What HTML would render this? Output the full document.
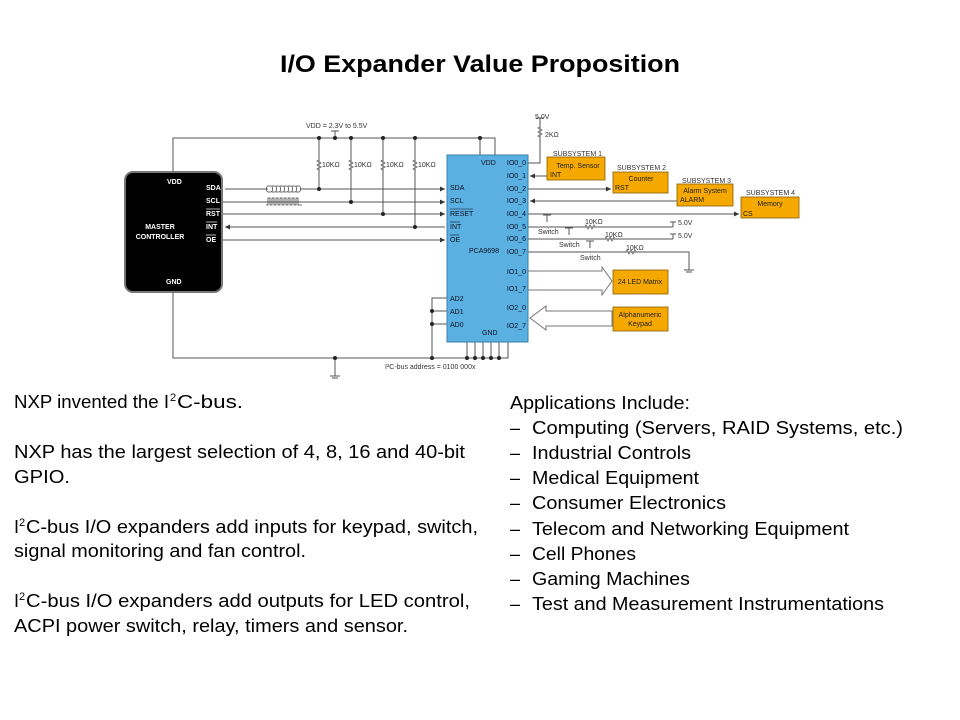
<!DOCTYPE html>
<html><head><meta charset="utf-8"><style>
html,body{margin:0;padding:0;background:#fff;}
svg{display:block;font-family:"Liberation Sans",Arial,sans-serif;}
</style></head><body>
<svg width="960" height="720" viewBox="0 0 960 720" xmlns="http://www.w3.org/2000/svg">
<defs>
<marker id="ar" markerWidth="6" markerHeight="6" refX="5" refY="3" orient="auto" markerUnits="userSpaceOnUse"><path d="M0,0.5 L5,3 L0,5.5z" fill="#333"/></marker>
</defs>
<text x="280" y="72" textLength="400" lengthAdjust="spacingAndGlyphs" font-size="24" font-weight="bold" fill="#000">I/O Expander Value Proposition</text>

<g stroke="#555" stroke-width="1" fill="none">
<polyline points="173,172 173,138 495,138 495,155"/>
<line x1="480" y1="138" x2="480" y2="155"/>
<line x1="335" y1="131" x2="335" y2="138"/><line x1="331" y1="131" x2="339" y2="131"/>
<line x1="319" y1="138" x2="319" y2="189"/><line x1="351" y1="138" x2="351" y2="202"/>
<line x1="383" y1="138" x2="383" y2="214"/><line x1="415" y1="138" x2="415" y2="227"/>
<line x1="225" y1="189" x2="445" y2="189" marker-end="url(#ar)"/>
<line x1="223" y1="202" x2="445" y2="202" marker-end="url(#ar)"/>
<line x1="223" y1="214" x2="445" y2="214" marker-end="url(#ar)"/>
<line x1="445" y1="227" x2="225" y2="227" marker-end="url(#ar)"/>
<line x1="223" y1="240" x2="445" y2="240" marker-end="url(#ar)"/>
<polyline points="173,292 173,358 508,358 508,342"/>
<line x1="335" y1="358" x2="335" y2="376"/><line x1="330" y1="376" x2="340" y2="376"/><line x1="332" y1="378" x2="338" y2="378"/>
<polyline points="447,298 432,298 432,358"/>
<line x1="432" y1="311" x2="447" y2="311"/><line x1="432" y1="324" x2="447" y2="324"/>
<line x1="467" y1="342" x2="467" y2="358"/><line x1="475" y1="342" x2="475" y2="358"/><line x1="483" y1="342" x2="483" y2="358"/><line x1="491" y1="342" x2="491" y2="358"/><line x1="499" y1="342" x2="499" y2="358"/>
<polyline points="528,163 540,163 540,118"/>
<line x1="536" y1="118" x2="544" y2="118"/>
<line x1="547" y1="176" x2="530" y2="176" marker-end="url(#ar)"/>
<line x1="528" y1="189" x2="611" y2="189" marker-end="url(#ar)"/>
<line x1="677" y1="201" x2="530" y2="201" marker-end="url(#ar)"/>
<line x1="528" y1="214" x2="739" y2="214" marker-end="url(#ar)"/>
<line x1="528" y1="227" x2="673" y2="227"/><line x1="673" y1="222" x2="673" y2="227"/><line x1="670" y1="222" x2="676" y2="222"/>
<line x1="528" y1="239" x2="673" y2="239"/><line x1="673" y1="234" x2="673" y2="239"/><line x1="670" y1="234" x2="676" y2="234"/>
<polyline points="528,252 689,252 689,270"/><line x1="684" y1="270" x2="694" y2="270"/><line x1="686" y1="272" x2="692" y2="272"/>
<line x1="547" y1="215" x2="547" y2="222"/><line x1="543" y1="215" x2="551" y2="215"/>
<line x1="569" y1="228" x2="569" y2="235"/><line x1="565" y1="228" x2="573" y2="228"/>
<line x1="590" y1="241" x2="590" y2="248"/><line x1="586" y1="241" x2="594" y2="241"/>
<polygon points="528,271 602,271 602,267 612,281 602,295 602,290 528,290" fill="#fff" stroke="#777"/>
<polygon points="612,311 546,311 546,306 530,318 546,330 546,326 612,326" fill="#fff" stroke="#777"/>
</g>
<g stroke="#555" stroke-width="0.8" fill="#fff">
<path d="M319,160 l-2,1 l4,2 l-4,2 l4,2 l-4,2 l2,1"/>
<path d="M351,160 l-2,1 l4,2 l-4,2 l4,2 l-4,2 l2,1"/>
<path d="M383,160 l-2,1 l4,2 l-4,2 l4,2 l-4,2 l2,1"/>
<path d="M415,160 l-2,1 l4,2 l-4,2 l4,2 l-4,2 l2,1"/>
<path d="M540,127 l-2,1 l4,2 l-4,2 l4,2 l-4,2 l2,1"/>
<path d="M585,227 l1,-2 l2,4 l2,-4 l2,4 l2,-4 l1,2"/>
<path d="M605,239 l1,-2 l2,4 l2,-4 l2,4 l2,-4 l1,2"/>
<path d="M626,252 l1,-2 l2,4 l2,-4 l2,4 l2,-4 l1,2"/>
</g>
<g fill="#222">
<circle cx="335" cy="138" r="2"/><circle cx="319" cy="138" r="2"/><circle cx="351" cy="138" r="2"/><circle cx="383" cy="138" r="2"/><circle cx="415" cy="138" r="2"/><circle cx="480" cy="138" r="2"/>
<circle cx="319" cy="189" r="2"/><circle cx="351" cy="202" r="2"/><circle cx="383" cy="214" r="2"/><circle cx="415" cy="227" r="2"/>
<circle cx="335" cy="358" r="2"/><circle cx="432" cy="358" r="2"/><circle cx="432" cy="311" r="2"/><circle cx="432" cy="324" r="2"/>
<circle cx="467" cy="358" r="2"/><circle cx="475" cy="358" r="2"/><circle cx="483" cy="358" r="2"/><circle cx="491" cy="358" r="2"/><circle cx="499" cy="358" r="2"/>
</g>
<path d="M266,189 h2 m0,-3 h3 a1.5,3 0 0 1 0,6 h-3 a1.5,3 0 0 1 0,-6 m4,0 h3 a1.5,3 0 0 1 0,6 h-3 m4,-6 h3 a1.5,3 0 0 1 0,6 h-3 m4,-6 h3 a1.5,3 0 0 1 0,6 h-3 m4,-6 h3 a1.5,3 0 0 1 0,6 h-3 m4,-6 h3 a1.5,3 0 0 1 0,6 h-3 m4,-6 h3 a1.5,3 0 0 1 0,6 h-3 m4,-6 h3 a1.5,3 0 0 1 0,6 h-3" fill="#fff" stroke="#444" stroke-width="0.8"/>
<path d="M266,205 h2 v-7 h2 v7 h2 v-7 h2 v7 h2 v-7 h2 v7 h2 v-7 h2 v7 h2 v-7 h2 v7 h2 v-7 h2 v7 h2 v-7 h2 v7 h2 v-7 h2 v7 h4" fill="none" stroke="#444" stroke-width="0.8"/>

<g font-size="7" fill="#333">
<text x="306" y="128">VDD = 2.3V to 5.5V</text>
<text x="322" y="167">10KΩ</text><text x="354" y="167">10KΩ</text><text x="386" y="167">10KΩ</text><text x="418" y="167">10KΩ</text>
<text x="385" y="369">I²C-bus address = 0100 000x</text>
<text x="535" y="119">5.0V</text><text x="545" y="137">2KΩ</text>
<text x="553" y="156">SUBSYSTEM 1</text><text x="617" y="170">SUBSYSTEM 2</text><text x="682" y="183">SUBSYSTEM 3</text><text x="746" y="195">SUBSYSTEM 4</text>
<text x="538" y="234">Switch</text><text x="559" y="247">Switch</text><text x="580" y="260">Switch</text>
<text x="585" y="224">10KΩ</text><text x="605" y="237">10KΩ</text><text x="626" y="250">10KΩ</text>
<text x="678" y="225">5.0V</text><text x="678" y="238">5.0V</text>
</g>

<rect x="125" y="172" width="97" height="120" rx="8" fill="#000" stroke="#777" stroke-width="2"/>
<g font-size="7" fill="#fff" font-weight="bold">
<text x="167" y="184">VDD</text><text x="166" y="284">GND</text>
<text x="160" y="229" text-anchor="middle">MASTER</text><text x="160" y="239" text-anchor="middle">CONTROLLER</text>
<text x="206" y="190">SDA</text><text x="206" y="203">SCL</text><text x="206" y="216">RST</text><text x="206" y="229">INT</text><text x="206" y="242">OE</text>
</g>
<g stroke="#fff" stroke-width="0.7"><line x1="206" y1="209" x2="220" y2="209"/><line x1="206" y1="222" x2="217" y2="222"/><line x1="206" y1="235" x2="216" y2="235"/></g>
<rect x="447" y="155" width="81" height="187" fill="#5ab0e0" stroke="#3a7fae"/>
<g font-size="7" fill="#112">
<text x="481" y="165">VDD</text><text x="482" y="335">GND</text><text x="469" y="253">PCA9698</text>
<text x="450" y="190">SDA</text><text x="450" y="203">SCL</text><text x="450" y="216">RESET</text><text x="450" y="229">INT</text><text x="450" y="242">OE</text>
<text x="450" y="301">AD2</text><text x="450" y="314">AD1</text><text x="450" y="327">AD0</text>
<g text-anchor="end"><text x="526" y="165">IO0_0</text><text x="526" y="178">IO0_1</text><text x="526" y="191">IO0_2</text><text x="526" y="203">IO0_3</text><text x="526" y="216">IO0_4</text><text x="526" y="229">IO0_5</text><text x="526" y="241">IO0_6</text><text x="526" y="254">IO0_7</text><text x="526" y="274">IO1_0</text><text x="526" y="291">IO1_7</text><text x="526" y="310">IO2_0</text><text x="526" y="328">IO2_7</text></g>
</g>
<g stroke="#112" stroke-width="0.6"><line x1="450" y1="209" x2="473" y2="209"/><line x1="450" y1="222" x2="460" y2="222"/><line x1="450" y1="235" x2="459" y2="235"/><line x1="550" y1="171" x2="561" y2="171"/><line x1="743" y1="210" x2="752" y2="210"/></g>
<g fill="#f5a800" stroke="#8a5c00" stroke-width="0.8">
<rect x="547" y="157" width="58" height="23"/><rect x="613" y="172" width="55" height="21"/><rect x="677" y="184" width="56" height="22"/><rect x="741" y="197" width="58" height="21"/>
<rect x="613" y="270" width="55" height="24"/><rect x="613" y="307" width="55" height="24"/>
</g>
<g font-size="7" fill="#222">
<text x="578" y="168" text-anchor="middle">Temp. Sensor</text><text x="550" y="177">INT</text>
<text x="641" y="181" text-anchor="middle">Counter</text><text x="615" y="190">RST</text>
<text x="705" y="193" text-anchor="middle">Alarm System</text><text x="680" y="202">ALARM</text>
<text x="770" y="206" text-anchor="middle">Memory</text><text x="743" y="216">CS</text>
<text x="640" y="284" text-anchor="middle">24 LED Matrix</text>
<text x="640" y="317" text-anchor="middle">Alphanumeric</text><text x="640" y="326" text-anchor="middle">Keypad</text>
</g>

<g font-size="18" fill="#000">
<text x="14" y="408" textLength="155" lengthAdjust="spacingAndGlyphs">NXP invented the I</text><text x="170" y="401" font-size="11">2</text><text x="177" y="408" textLength="66" lengthAdjust="spacingAndGlyphs">C-bus.</text>
<text x="14" y="458" textLength="451" lengthAdjust="spacingAndGlyphs">NXP has the largest selection of 4, 8, 16 and 40-bit</text>
<text x="14" y="483" textLength="56" lengthAdjust="spacingAndGlyphs">GPIO.</text>
<text x="14" y="533">I</text><text x="19" y="526" font-size="11">2</text><text x="26" y="533" textLength="452" lengthAdjust="spacingAndGlyphs">C-bus I/O expanders add inputs for keypad, switch,</text>
<text x="14" y="557" textLength="292" lengthAdjust="spacingAndGlyphs">signal monitoring and fan control.</text>
<text x="14" y="607">I</text><text x="19" y="600" font-size="11">2</text><text x="26" y="607" textLength="444" lengthAdjust="spacingAndGlyphs">C-bus I/O expanders add outputs for LED control,</text>
<text x="14" y="632" textLength="394" lengthAdjust="spacingAndGlyphs">ACPI power switch, relay, timers and sensor.</text>
</g>
<g font-size="18" fill="#000">
<text x="510" y="409" textLength="180" lengthAdjust="spacingAndGlyphs">Applications Include:</text>
<text x="510" y="434">–</text><text x="532" y="434" textLength="371" lengthAdjust="spacingAndGlyphs">Computing (Servers, RAID Systems, etc.)</text>
<text x="510" y="459">–</text><text x="532" y="459" textLength="159" lengthAdjust="spacingAndGlyphs">Industrial Controls</text>
<text x="510" y="484">–</text><text x="532" y="484" textLength="167" lengthAdjust="spacingAndGlyphs">Medical Equipment</text>
<text x="510" y="509">–</text><text x="532" y="509" textLength="194" lengthAdjust="spacingAndGlyphs">Consumer Electronics</text>
<text x="510" y="535">–</text><text x="532" y="535" textLength="317" lengthAdjust="spacingAndGlyphs">Telecom and Networking Equipment</text>
<text x="510" y="560">–</text><text x="532" y="560" textLength="104" lengthAdjust="spacingAndGlyphs">Cell Phones</text>
<text x="510" y="585">–</text><text x="532" y="585" textLength="158" lengthAdjust="spacingAndGlyphs">Gaming Machines</text>
<text x="510" y="610">–</text><text x="532" y="610" textLength="352" lengthAdjust="spacingAndGlyphs">Test and Measurement Instrumentations</text>
</g>
</svg>
</body></html>
